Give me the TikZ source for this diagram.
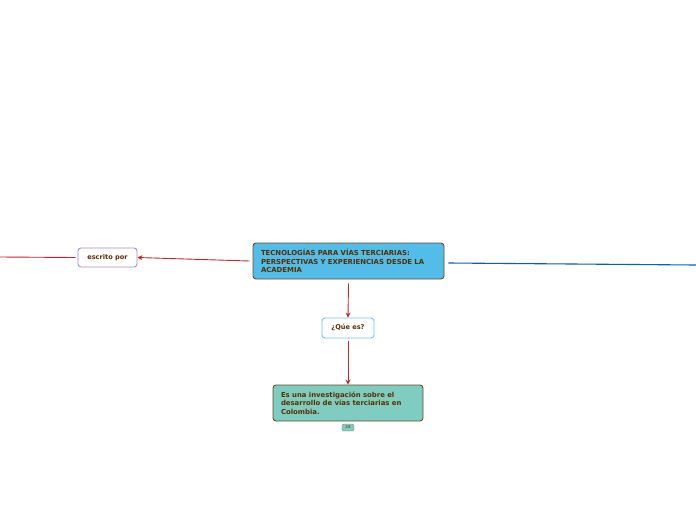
\documentclass[tikz,border=0pt]{standalone}
\usepackage{fontspec}
\setmainfont{DejaVu Sans}
\definecolor{topicblue}{HTML}{52BDE9}
\definecolor{topicbrown}{HTML}{6B4A2B}
\definecolor{textbrown}{HTML}{5A2E00}
\definecolor{linkred}{HTML}{C0282D}
\definecolor{linkblue}{HTML}{0A5BD0}
\definecolor{answergreen}{HTML}{7ECDC0}
\definecolor{askpurple}{HTML}{A98DC9}
\definecolor{askblue}{HTML}{6CC4EE}
\tikzset{
  topic/.style={draw=topicbrown, rounded corners=3pt, line width=0.9pt, font=\fontsize{6.9}{8.6}\selectfont\bfseries, text=textbrown, align=left, inner sep=0pt},
  label box/.style={draw, fill=white, rounded corners=3pt, line width=0.9pt, font=\fontsize{6.6}{8}\selectfont\bfseries, text=textbrown, inner sep=0pt},
  redlink/.style={draw=linkred, line width=0.9pt, -{Stealth[length=5pt,width=5pt]}},
}
\usetikzlibrary{arrows.meta}
\begin{document}
\begin{tikzpicture}[x=1pt, y=-1pt]
  \useasboundingbox (0,0) rectangle (696,520);
  % nodes
  \node[topic, fill=topicblue, minimum width=191pt, minimum height=36pt, text width=175pt] (main) at (348.5,261)
    {TECNOLOGÍAS PARA VÍAS TERCIARIAS:\\ PERSPECTIVAS Y EXPERIENCIAS DESDE LA\\ ACADEMIA};
  \node[label box, draw=askpurple, minimum width=59pt, minimum height=19pt] (escrito) at (107.5,257.5) {escrito por};
  \node[label box, draw=askblue, minimum width=52pt, minimum height=20pt] (quees) at (348,328) {¿Qúe es?};
  \node[topic, fill=answergreen, minimum width=150pt, minimum height=36pt, text width=134pt] (answer) at (348,403)
    {Es una investigación sobre el\\ desarrollo de vías terciarias en\\ Colombia.};
  \node[draw=topicbrown!70, fill=answergreen, rounded corners=1.5pt, line width=0.4pt, minimum width=12pt, minimum height=7pt, inner sep=0pt, font=\fontsize{4}{4}\selectfont, text=textbrown] (count) at (348,427.5) {28};
  \coordinate (leftend) at (0,257);
  \coordinate (rightend) at (696,265);
  % connectors
  \draw[redlink] ([xshift=-3pt]main.west) -- (escrito.east);
  \draw[linkred, line width=0.9pt] ([xshift=-2pt]escrito.west) -- (leftend);
  \draw[linkblue, line width=1.1pt] ([xshift=4pt,yshift=-2pt]main.east) -- (rightend);
  \draw[redlink] ([yshift=-4pt]main.south) -- (quees.north);
  \draw[redlink] ([yshift=-3pt]quees.south) -- (answer.north);
\end{tikzpicture}
\end{document}
